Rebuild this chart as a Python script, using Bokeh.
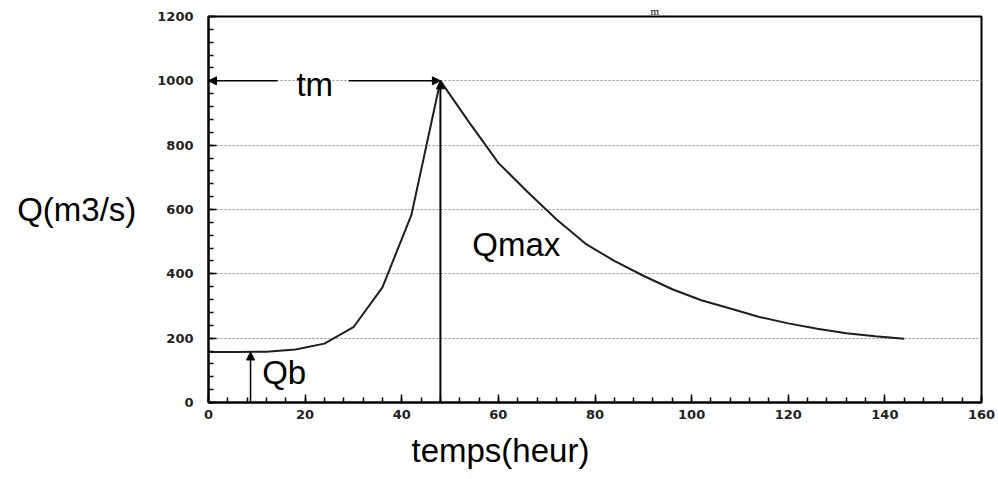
from bokeh.plotting import figure
from bokeh.models import Range1d, Arrow, NormalHead, Label, FixedTicker, Title
from bokeh.embed import file_html
from bokeh.resources import INLINE

# Flood hydrograph: discharge (m3/s) against time (hours)
temps = [0, 6, 12, 18, 24, 30, 36, 42, 48, 54, 60, 66, 72, 78, 84, 90,
         96, 102, 108, 114, 120, 126, 132, 138, 144]
debit = [157, 157, 158, 165, 183, 234, 358, 583, 1000, 870, 745, 655, 570,
         494, 440, 394, 352, 318, 292, 266, 246, 229, 215, 206, 198]

x_ticks = [0, 20, 40, 60, 80, 100, 120, 140, 160]
y_ticks = [0, 200, 400, 600, 800, 1000, 1200]

i_peak = debit.index(max(debit))
t_peak = temps[i_peak]
q_max = debit[i_peak]
q_base = debit[0]

p = figure(width=998, height=479, output_backend="svg", toolbar_location=None,
           x_range=Range1d(0, 160), y_range=Range1d(0, 1200),
           min_border_left=208, min_border_right=17,
           min_border_top=16, min_border_bottom=77)
p.background_fill_color = "white"
p.border_fill_color = "white"
p.outline_line_color = "black"
p.outline_line_width = 2

# axes
for ax, ticks, step in ((p.xaxis, x_ticks, 4), (p.yaxis, y_ticks, 40)):
    ax.ticker = FixedTicker(ticks=ticks, minor_ticks=list(range(0, 1201, step)))
    ax.axis_line_width = 2
    ax.axis_line_color = "black"
    ax.major_tick_in = 8
    ax.major_tick_out = 0
    ax.minor_tick_in = 5
    ax.minor_tick_out = 0
    ax.major_tick_line_width = 1.5
    ax.minor_tick_line_width = 1.5
    ax.major_label_text_font = "DejaVu Sans"
    ax.major_label_text_font_style = "bold"
    ax.major_label_text_font_size = "13px"
    ax.major_label_text_color = "#222222"
p.xaxis.major_label_standoff = 7
p.yaxis.major_label_standoff = 15

# y axis title, written horizontally to the left of the tick labels
p.yaxis.axis_label = "Q(m3/s)"
p.yaxis.axis_label_orientation = "horizontal"
p.yaxis.axis_label_text_font = "Liberation Sans"
p.yaxis.axis_label_text_font_style = "normal"
p.yaxis.axis_label_text_font_size = "33px"
p.yaxis.axis_label_text_color = "black"
p.yaxis.axis_label_standoff = 18

# x axis title
p.add_layout(Title(text="temps(heur)", align="left", offset=203, standoff=17,
                   text_font="Liberation Sans", text_font_style="normal",
                   text_font_size="33px", text_line_height=1.0,
                   text_color="black"), "below")

# small subscript letter at the top edge of the page
p.add_layout(Title(text="m", align="left", offset=442, standoff=0,
                   text_font="Liberation Serif", text_font_style="normal",
                   text_font_size="11px", text_line_height=1.0,
                   text_color="black"), "above")

p.xgrid.grid_line_color = None
p.ygrid.ticker = FixedTicker(ticks=[200, 400, 600, 800, 1000])
p.ygrid.grid_line_color = "#8a8a8a"
p.ygrid.grid_line_dash = "2 2"
p.ygrid.grid_line_width = 1

# hydrograph
p.line(temps, debit, line_color="#1e1e1e", line_width=2)

head = lambda: NormalHead(size=8, fill_color="black", line_color="black", line_width=1)

# tm: time to peak
p.add_layout(Arrow(end=head(), x_start=14.3, y_start=q_max, x_end=0, y_end=q_max,
                   line_width=1.5, line_color="black"))
p.add_layout(Arrow(end=head(), x_start=29, y_start=q_max, x_end=t_peak, y_end=q_max,
                   line_width=1.5, line_color="black"))
# Qmax
p.add_layout(Arrow(end=head(), x_start=t_peak, y_start=0, x_end=t_peak, y_end=q_max,
                   line_width=2, line_color="black"))
# Qb: base flow
p.add_layout(Arrow(end=head(), x_start=8.7, y_start=0, x_end=8.7, y_end=q_base,
                   line_width=1.5, line_color="black"))

def txt(x, y, s):
    p.add_layout(Label(x=x, y=y, text=s, text_font="Liberation Sans",
                       text_font_size="33px", text_align="left",
                       text_baseline="middle", text_color="black"))

txt(18.2, q_max - 12, "tm")
txt(54.6, 490, "Qmax")
txt(11.1, 93, "Qb")

open("out.html", "w").write(file_html(p, INLINE))
